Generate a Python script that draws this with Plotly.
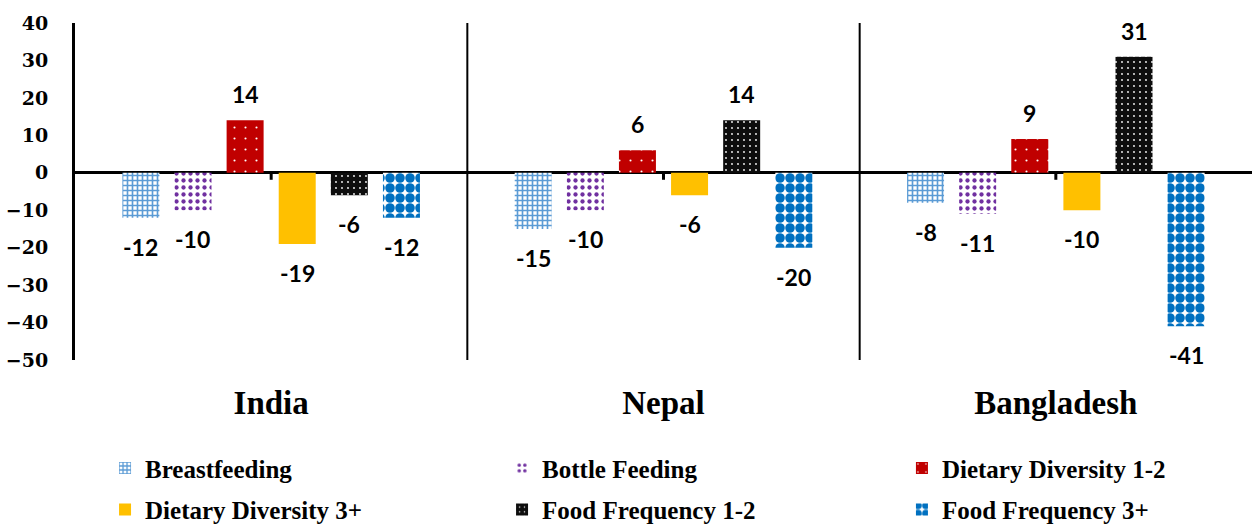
import plotly.graph_objects as go

# Countries on the category axis
countries = ["India", "Nepal", "Bangladesh"]

# Change in each feeding indicator per country
series_names = [
    "Breastfeeding",
    "Bottle Feeding",
    "Dietary Diversity 1-2",
    "Dietary Diversity 3+",
    "Food Frequency 1-2",
    "Food Frequency 3+",
]
breastfeeding = [-12, -15, -8]
bottle_feeding = [-10, -10, -11]
dietary_diversity_12 = [14, 6, 9]
dietary_diversity_3p = [-19, -6, -10]
food_frequency_12 = [-6, 14, 31]
food_frequency_3p = [-12, -20, -41]

y_ticks = [40, 30, 20, 10, 0, -10, -20, -30, -40, -50]

series_values = [
    breastfeeding,
    bottle_feeding,
    dietary_diversity_12,
    dietary_diversity_3p,
    food_frequency_12,
    food_frequency_3p,
]

# Fill pattern for each series: (shape, fg, bg, size, solidity)
styles = [
    ("+", "#5B9BD5", "white", 5, 0.55),
    (".", "#7030A0", "white", 7, 0.3),
    (".", "white", "#C00000", 11, 0.03),
    ("", "#FFC000", "#FFC000", 8, 0.3),
    (".", "white", "#0D0D0D", 6, 0.07),
    (".", "#0070C0", "white", 10, 0.72),
]

# Legend column each series belongs to
legend_ids = ["legend", "legend2", "legend3", "legend", "legend2", "legend3"]

BARGAP = 0.203
BARGROUPGAP = 0.29

fig = go.Figure()
for k, (name, vals) in enumerate(zip(series_names, series_values)):
    shape, fg, bg, size, sol = styles[k]
    marker = dict(color=bg if shape else fg, line=dict(width=0))
    if shape:
        marker["pattern"] = dict(shape=shape, fgcolor=fg, bgcolor=bg,
                                 size=size, solidity=sol, fgopacity=1)
    fig.add_trace(go.Bar(
        name=name, x=countries, y=vals, marker=marker,
        legend=legend_ids[k], legendgroup=name,
    ))

# Value labels placed just beyond the end of each bar
pitch = (1 - BARGAP) / len(series_names)
label_font = dict(family="Lato", size=23, color="black", weight="bold")
for k, vals in enumerate(series_values):
    for i, v in enumerate(vals):
        neg = v < 0
        fig.add_annotation(
            x=i + (k - (len(series_names) - 1) / 2) * pitch, y=v,
            xref="x", yref="y", text=f"{v:g}", showarrow=False,
            yanchor="top" if neg else "bottom",
            yshift=-13 if neg else 10,
            font=label_font,
        )

# Vertical separators between country groups
for b in [0.5, 1.5]:
    fig.add_shape(type="line", xref="x", yref="paper", x0=b, x1=b, y0=0, y1=1,
                  line=dict(color="black", width=2))

# Short tick marks under the zero line at each country
for i in range(len(countries)):
    fig.add_shape(type="line", xref="x", yref="y", x0=i, x1=i,
                  ysizemode="pixel", yanchor=0, y0=0, y1=-7,
                  line=dict(color="black", width=3))

legend_font = dict(family="Liberation Serif", size=25, color="black", weight="bold")
common_legend = dict(xref="container", yref="container", xanchor="left",
                     yanchor="top", orientation="v", font=legend_font,
                     traceorder="grouped", tracegroupgap=6, itemwidth=30,
                     bgcolor="rgba(0,0,0,0)")

fig.update_layout(
    width=1252, height=525,
    margin=dict(l=75, r=0, t=23, b=165, autoexpand=False),
    paper_bgcolor="white", plot_bgcolor="white",
    barmode="group", bargap=BARGAP, bargroupgap=BARGROUPGAP,
    showlegend=True,
    legend=dict(x=0.0839, y=0.152, **common_legend),
    legend2=dict(x=0.401, y=0.152, **common_legend),
    legend3=dict(x=0.7204, y=0.152, **common_legend),
    xaxis=dict(
        showline=False, showgrid=False, ticks="", zeroline=False,
        ticklabelstandoff=20,
        tickfont=dict(family="Liberation Serif", size=33, color="black", weight="bold"),
    ),
    yaxis=dict(
        range=[-50, 40], tickvals=y_ticks, showgrid=False,
        showline=True, linecolor="black", linewidth=3,
        zeroline=True, zerolinecolor="black", zerolinewidth=3,
        ticks="", ticklabelstandoff=20,
        tickfont=dict(family="DejaVu Serif", size=19, color="black", weight="bold"),
    ),
)

fig.write_html("out.html")
